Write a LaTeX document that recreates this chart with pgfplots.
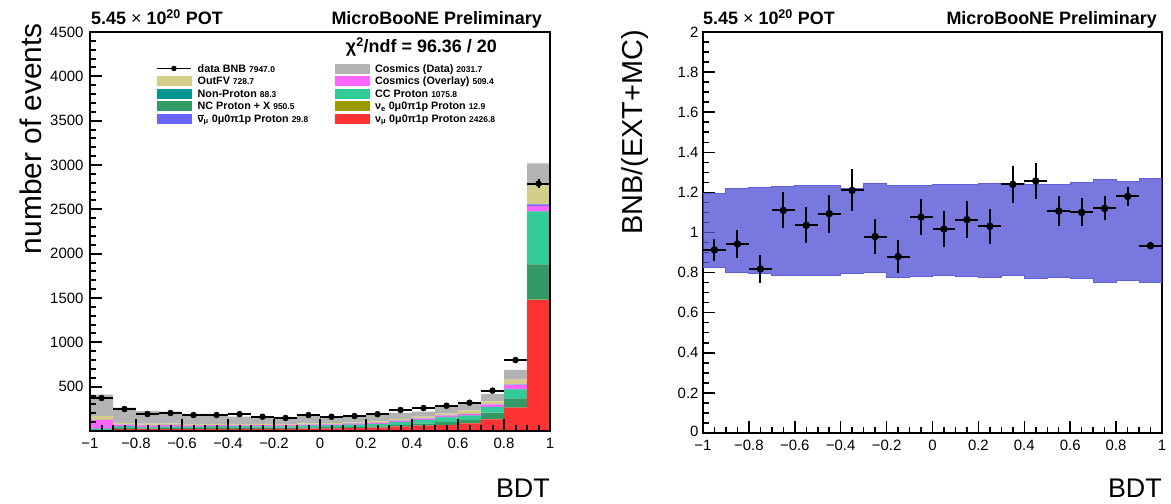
\documentclass[border=0pt]{standalone}
\usepackage{fontspec}
\setmainfont{Liberation Sans}
\usepackage{pgfplots}
\usepackage{pgfplotstable}
\pgfplotsset{compat=1.18}
\usepgfplotslibrary{fillbetween}

\definecolor{cRed}{RGB}{255,51,51}
\definecolor{cOlive}{RGB}{153,153,0}
\definecolor{cNC}{RGB}{51,153,102}
\definecolor{cCC}{RGB}{51,204,153}
\definecolor{cTeal}{RGB}{0,150,150}
\definecolor{cPink}{RGB}{255,102,255}
\definecolor{cBlue}{RGB}{102,102,255}
\definecolor{cKhaki}{RGB}{212,206,138}
\definecolor{cGray}{RGB}{179,179,179}
\definecolor{cBand}{RGB}{80,80,212}
\definecolor{cBandE}{RGB}{95,95,215}

% stacked MC per bin (bin centres)
\pgfplotstableread{
x     red  olive nc  cc  teal pink blue khaki gray
-0.95 8    0     6   8   4    98   1    45    241
-0.85 22   0     10  15  5    20   1    20    170
-0.75 20   0     10  12  5    16   1    18    143
-0.65 22   0     10  12  5    18   1    15    135
-0.55 22   0     10  12  5    14   1    14    114
-0.45 23   0     11  13  5    13   1    14    112
-0.35 24   0     11  14  5    10   1    12    85
-0.25 25   0     12  15  4    10   1    12    75
-0.15 25   0     12  15  4    9    1    12    65
-0.05 28   0     13  17  4    10   1    14    86
0.05  30   0     13  18  4    10   1    13    73
0.15  33   0     14  20  4    10   2    14    71
0.25  38   0     15  24  4    10   2    15    72
0.35  50   0     18  33  3    11   3    19    66
0.45  60   0     22  40  3    15   3    20    55
0.55  67   0     35  53  3    15   3    20    78
0.65  87   1     37  45  3    18   3    39    79
0.75  132  1     74  61  3    26   3    35    82
0.85  263  2     104 101 3    45   5    56    109
0.95  1477 5     398 593 5    62   15   219   245
}\stack

\pgfplotstableread{
x     d    e
-0.95 372  19.3
-0.85 248  15.7
-0.75 192  13.9
-0.65 203  14.2
-0.55 180  13.4
-0.45 180  13.4
-0.35 190  13.8
-0.25 161  12.7
-0.15 147  12.1
-0.05 180  13.4
0.05  161  12.7
0.15  169  13.0
0.25  190  13.8
0.35  237  15.4
0.45  259  16.1
0.55  285  16.9
0.65  319  17.9
0.75  455  21.3
0.85  800  28.3
0.95  2790 52.8
}\bnb

% systematic band, bin left edges (last row closes the step)
\pgfplotstableread{
x    lo    up
-1.0 0.826 1.195
-0.9 0.801 1.217
-0.8 0.796 1.224
-0.7 0.788 1.229
-0.6 0.786 1.234
-0.5 0.785 1.232
-0.4 0.796 1.220
-0.3 0.800 1.244
-0.2 0.775 1.234
-0.1 0.783 1.232
0.0  0.787 1.237
0.1  0.781 1.240
0.2  0.778 1.242
0.3  0.786 1.244
0.4  0.770 1.240
0.5  0.775 1.240
0.6  0.772 1.248
0.7  0.753 1.265
0.8  0.760 1.252
0.9  0.753 1.267
1.0  0.753 1.267
}\band

\pgfplotstableread{
x     r     e
-0.95 0.913 0.055
-0.85 0.943 0.070
-0.75 0.818 0.068
-0.65 1.110 0.090
-0.55 1.036 0.090
-0.45 1.094 0.095
-0.35 1.210 0.105
-0.25 0.980 0.086
-0.15 0.880 0.082
-0.05 1.077 0.091
0.05  1.017 0.090
0.15  1.064 0.092
0.25  1.031 0.086
0.35  1.240 0.094
0.45  1.257 0.088
0.55  1.107 0.074
0.65  1.100 0.070
0.75  1.120 0.060
0.85  1.180 0.047
0.95  0.934 0.017
}\ratio

\newcommand\lbox[1]{\addlegendimage{legend image code/.code={\fill[#1] (0bp,-4.5bp) rectangle (34bp,4.5bp);}}}
\newcommand\lnum[1]{{\fontsize{8.5}{9}\selectfont #1}}
\newcommand\lcol[1]{\makebox[131bp][l]{#1}}

\pgfplotsset{
  rootstyle/.style={
    scale only axis, xmin=-1, xmax=1,
    tick align=inside, tick pos=left,
    major tick length=12bp, minor tick length=6bp,
    minor x tick num=3,
    xtick={-1,-0.8,-0.6,-0.4,-0.2,0,0.2,0.4,0.6,0.8,1},
    xticklabels={−1,−0.8,−0.6,−0.4,−0.2,0,0.2,0.4,0.6,0.8,1},
    tick label style={font=\fontsize{15}{15}\selectfont},
    xticklabel style={yshift=-4bp},
  },
}
\tikzset{lbl/.style={inner sep=0pt}}

\begin{document}
\begin{tikzpicture}
% ---- left: stacked MC
\begin{axis}[rootstyle, at={(90bp,73bp)}, anchor=south west,
  width=460bp, height=399bp,
  ymin=0, ymax=4500,
  ytick={0,500,1000,1500,2000,2500,3000,3500,4000,4500},
  yticklabels={,500,1000,1500,2000,2500,3000,3500,4000,4500},
  minor y tick num=4,
  yticklabel style={xshift=-3bp},
  ybar stacked, bar width=0.1,
  axis on top,
  axis line style={line width=2bp},
  tick style={black, line width=2bp},
  ]
  \addplot[fill=cRed, draw=none] table[x=x, y=red]{\stack};
  \addplot[fill=cOlive, draw=none] table[x=x, y=olive]{\stack};
  \addplot[fill=cNC, draw=none] table[x=x, y=nc]{\stack};
  \addplot[fill=cCC, draw=none] table[x=x, y=cc]{\stack};
  \addplot[fill=cTeal, draw=none] table[x=x, y=teal]{\stack};
  \addplot[fill=cPink, draw=none] table[x=x, y=pink]{\stack};
  \addplot[fill=cBlue, draw=none] table[x=x, y=blue]{\stack};
  \addplot[fill=cKhaki, draw=none] table[x=x, y=khaki]{\stack};
  \addplot[fill=cGray, draw=none] table[x=x, y=gray]{\stack};
\end{axis}

% ---- left: data, legend and texts
\begin{axis}[at={(90bp,73bp)}, anchor=south west,
  width=460bp, height=399bp, scale only axis,
  xmin=-1, xmax=1, ymin=0, ymax=4500,
  hide axis, clip=false,
  legend columns=2, legend cell align=left,
  legend style={draw=none, fill=none, inner sep=0pt, column sep=6bp,
    at={(axis description cs:0.1435,0.9248)}, anchor=north west,
    nodes={inner sep=0pt, text height=10bp, text depth=2.5bp,
      font=\bfseries\fontsize{10.8}{12}\selectfont}},
  ]
  \addplot[only marks, mark=*, mark size=3bp, black, forget plot,
    error bars/.cd, x dir=both, x fixed=0.05, y dir=both, y explicit,
    error mark=none, error bar style={line width=2bp}]
    table[x=x, y=d, y error=e]{\bnb};

  \addlegendimage{legend image code/.code={\draw[line width=1.5bp] (0bp,0bp) -- (34bp,0bp); \fill (17bp,0bp) circle (2.5bp);}}
  \addlegendentry{\lcol{data BNB \lnum{7947.0}}}
  \lbox{cGray}  \addlegendentry{Cosmics (Data) \lnum{2031.7}}
  \lbox{cKhaki} \addlegendentry{\lcol{OutFV \lnum{728.7}}}
  \lbox{cPink}  \addlegendentry{Cosmics (Overlay) \lnum{509.4}}
  \lbox{cTeal}  \addlegendentry{\lcol{Non-Proton \lnum{88.3}}}
  \lbox{cCC}    \addlegendentry{CC Proton \lnum{1075.8}}
  \lbox{cNC}    \addlegendentry{\lcol{NC Proton + X \lnum{950.5}}}
  \lbox{cOlive} \addlegendentry{ν\textsubscript{e} 0μ0π1p Proton \lnum{12.9}}
  \lbox{cBlue}  \addlegendentry{\lcol{$\overline{\mbox{ν}}$\textsubscript{μ} 0μ0π1p Proton \lnum{29.8}}}
  \lbox{cRed}   \addlegendentry{ν\textsubscript{μ} 0μ0π1p Proton \lnum{2426.8}}

  \node[lbl, anchor=base west, font=\bfseries\fontsize{18}{18}\selectfont]
    at ([xshift=1bp, yshift=7bp]axis description cs:0,1) {5.45 {\mdseries ×} 10\textsuperscript{20} POT};
  \node[lbl, anchor=base east, font=\bfseries\fontsize{18}{18}\selectfont]
    at ([xshift=-8bp, yshift=7bp]axis description cs:1,1) {MicroBooNE Preliminary};
  \node[lbl, anchor=base east, font=\bfseries\fontsize{18}{18}\selectfont]
    at ([xshift=-53bp, yshift=-21bp]axis description cs:1,1) {χ\textsuperscript{2}/ndf = 96.36 / 20};
  \node[lbl, anchor=base east, rotate=90, font=\fontsize{30}{30}\selectfont]
    at ([xshift=-48bp, yshift=9bp]axis description cs:0,1) {number of events};
  \node[lbl, anchor=base east, font=\fontsize{27}{27}\selectfont]
    at ([yshift=-66bp]axis description cs:1,0) {BDT};
\end{axis}

% ---- right: ratio
\begin{axis}[rootstyle, at={(703bp,71bp)}, anchor=south west,
  width=459bp, height=401bp,
  ymin=0, ymax=2,
  ytick={0,0.2,0.4,0.6,0.8,1,1.2,1.4,1.6,1.8,2},
  yticklabels={\raisebox{4bp}{0},0.2,0.4,0.6,0.8,1,1.2,1.4,1.6,1.8,2},
  minor y tick num=3,
  yticklabel style={xshift=-1bp},
  set layers, clip=false,
  axis line style={line width=1.5bp},
  tick style={black, line width=1.5bp},
  ]
  \addplot[name path=up, const plot, draw=cBandE, line width=1bp] table[x=x, y=up]{\band};
  \addplot[name path=lo, const plot, draw=cBandE, line width=1bp] table[x=x, y=lo]{\band};
  \addplot[fill=cBand, fill opacity=0.77, draw=none] fill between[of=up and lo];
  \addplot[only marks, mark=*, mark size=3.5bp, black,
    error bars/.cd, x dir=both, x fixed=0.05, y dir=both, y explicit,
    error mark=none, error bar style={line width=2bp}]
    table[x=x, y=r, y error=e]{\ratio};

  \node[lbl, anchor=base west, font=\bfseries\fontsize{18}{18}\selectfont]
    at ([yshift=7bp]axis description cs:0,1) {5.45 {\mdseries ×} 10\textsuperscript{20} POT};
  \node[lbl, anchor=base east, font=\bfseries\fontsize{18}{18}\selectfont]
    at ([xshift=-5bp, yshift=7bp]axis description cs:1,1) {MicroBooNE Preliminary};
  \node[lbl, anchor=base east, rotate=90, font=\fontsize{29}{29}\selectfont]
    at ([xshift=-61bp, yshift=2bp]axis description cs:0,1) {BNB/(EXT+MC)};
  \node[lbl, anchor=base east, font=\fontsize{27}{27}\selectfont]
    at ([yshift=-64bp]axis description cs:1,0) {BDT};
\end{axis}

\pgfresetboundingbox
\path[use as bounding box] (0,0) rectangle (1171bp,504bp);
\end{tikzpicture}
\end{document}
